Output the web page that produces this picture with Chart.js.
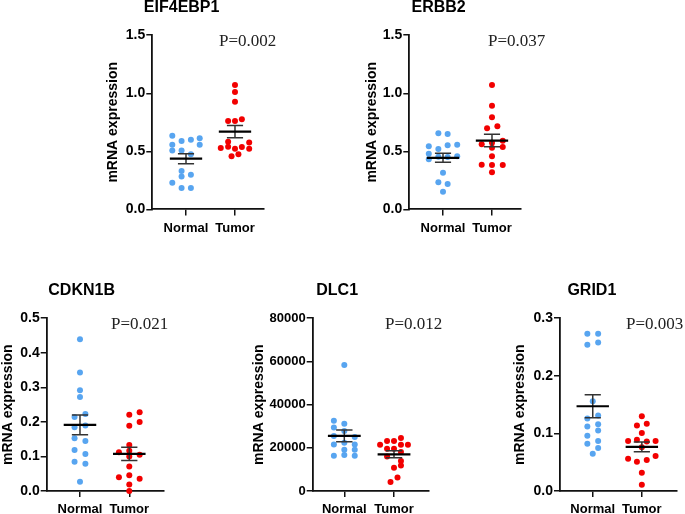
<!DOCTYPE html>
<html>
<head>
<meta charset="utf-8">
<script src="https://cdn.jsdelivr.net/npm/chart.js@4.4.1/dist/chart.umd.min.js"></script>
<style>
    body { margin: 0; width: 685px; height: 514px; position: relative; overflow: hidden; background: #fff; }
    .panel { position: absolute; }
    .pval { position: absolute; font-family: "Liberation Serif", "Times New Roman", serif; font-size: 17px; line-height: 1; color: #222; white-space: nowrap; }
</style>
</head>
<body>
<div class="panel" id="p1"><canvas id="c1"></canvas></div>
<div class="panel" id="p2"><canvas id="c2"></canvas></div>
<div class="panel" id="p3"><canvas id="c3"></canvas></div>
<div class="panel" id="p4"><canvas id="c4"></canvas></div>
<div class="panel" id="p5"><canvas id="c5"></canvas></div>
<div class="pval" style="left:219px; top:32px;">P=0.002</div>
<div class="pval" style="left:488px; top:32px;">P=0.037</div>
<div class="pval" style="left:111px; top:315px;">P=0.021</div>
<div class="pval" style="left:385px; top:315px;">P=0.012</div>
<div class="pval" style="left:626px; top:315px;">P=0.003</div>
<script>
const GROUPS = ["Normal", "Tumor"];
const Y_TITLE = "mRNA expression";

// values; jitter = horizontal spread of the dots (in category units)
const eif4ebp1Normal = [0.634, 0.589, 0.600, 0.612, 0.557, 0.557, 0.508, 0.508, 0.474, 0.330, 0.284, 0.298, 0.230, 0.184, 0.184];
const eif4ebp1NormalJitter = [-0.28, -0.09, 0.10, 0.28, -0.28, 0.28, -0.28, -0.09, 0.10, -0.09, -0.09, 0.10, -0.28, -0.09, 0.10];
const eif4ebp1Tumor = [1.072, 1.011, 0.928, 0.761, 0.761, 0.776, 0.583, 0.577, 0.528, 0.540, 0.523, 0.537, 0.523, 0.457, 0.474];
const eif4ebp1TumorJitter = [0, 0, 0, -0.14, 0, 0.14, -0.14, 0.29, -0.29, -0.14, 0, 0.14, 0.29, -0.07, 0.07];

const erbb2Normal = [0.655, 0.649, 0.543, 0.520, 0.552, 0.557, 0.479, 0.431, 0.454, 0.451, 0.457, 0.316, 0.233, 0.218, 0.152];
const erbb2NormalJitter = [-0.095, 0.095, -0.29, -0.095, 0.095, 0.29, -0.29, -0.29, -0.095, 0.095, 0.29, 0, -0.095, 0.095, 0];
const erbb2Tumor = [1.072, 0.893, 0.793, 0.698, 0.716, 0.560, 0.574, 0.591, 0.531, 0.537, 0.457, 0.385, 0.383, 0.382, 0.319];
const erbb2TumorJitter = [0, 0, 0, -0.1, 0.11, -0.21, 0, 0.22, 0, 0.22, 0, -0.21, 0, 0.22, 0];

const cdkn1bNormal = [0.439, 0.343, 0.292, 0.272, 0.214, 0.223, 0.185, 0.190, 0.153, 0.145, 0.119, 0.107, 0.085, 0.079, 0.027];
const cdkn1bNormalJitter = [0, 0, 0, 0, -0.11, 0.11, -0.11, 0.11, -0.11, 0.11, -0.11, 0.11, -0.11, 0.11, 0];
const cdkn1bTumor = [0.221, 0.228, 0.200, 0.189, 0.133, 0.112, 0.117, 0.100, 0.105, 0.071, 0.040, 0.046, 0.036, 0.019, 0.000];
const cdkn1bTumorJitter = [0, 0.21, 0.21, 0, 0, -0.21, 0, 0, 0.21, 0, -0.21, 0, 0.21, 0, 0];

const dlc1Normal = [58370, 32570, 31180, 29470, 27790, 25480, 25010, 22370, 21590, 21590, 19130, 19130, 16350, 16680, 16350];
const dlc1NormalJitter = [0, -0.21, 0, -0.21, 0, -0.21, 0.21, 0, -0.21, 0.21, 0, 0.21, -0.21, 0, 0.21];
const dlc1Tumor = [24550, 23160, 23160, 21450, 21450, 21450, 19600, 19600, 18070, 16030, 13900, 11860, 10800, 6300, 4170];
const dlc1TumorJitter = [0.14, -0.14, 0, -0.28, 0.14, 0.28, -0.14, 0, 0.14, -0.14, 0.14, 0.14, 0, 0.07, -0.07];

const grid1Normal = [0.273, 0.273, 0.254, 0.258, 0.156, 0.126, 0.131, 0.112, 0.116, 0.105, 0.096, 0.087, 0.082, 0.075, 0.065];
const grid1NormalJitter = [-0.11, 0.11, -0.11, 0.11, 0, -0.11, 0.11, -0.11, 0.11, 0.11, -0.11, 0.11, -0.11, 0.11, 0];
const grid1Tumor = [0.130, 0.114, 0.117, 0.101, 0.087, 0.089, 0.086, 0.087, 0.076, 0.056, 0.061, 0.051, 0.054, 0.032, 0.011];
const grid1TumorJitter = [0, -0.1, 0.1, 0, -0.28, -0.1, 0.1, 0.28, 0, -0.28, 0.28, -0.1, 0.1, 0, 0];

const FONT = "'Liberation Sans', Arial, sans-serif";
const BLUE = "#58a5f0";
const RED = "#f20000";

function meanSem(values) {
    const n = values.length;
    const mean = values.reduce((a, b) => a + b, 0) / n;
    const sd = Math.sqrt(values.reduce((a, v) => a + (v - mean) ** 2, 0) / (n - 1));
    return { mean, sem: sd / Math.sqrt(n) };
}

function summaryDatasets(values, center) {
    const { mean, sem } = meanSem(values);
    const hi = mean + sem;
    const lo = mean - sem;
    const cap = 0.165;
    const half = 0.33;
    return [
        {
            data: [{ x: center - half, y: mean }, { x: center + half, y: mean }],
            showLine: true, borderColor: "#000", borderWidth: 2.2, pointRadius: 0, clip: false
        },
        {
            data: [
                { x: center - cap, y: hi }, { x: center + cap, y: hi }, { x: center, y: null },
                { x: center, y: hi }, { x: center, y: lo }, { x: center, y: null },
                { x: center - cap, y: lo }, { x: center + cap, y: lo }
            ],
            showLine: true, spanGaps: false, borderColor: "#333", borderWidth: 1.5, pointRadius: 0, clip: false
        }
    ];
}

function pointDataset(values, jitter, center, color) {
    return {
        data: values.map((v, i) => ({ x: center + jitter[i], y: v })),
        backgroundColor: color,
        borderColor: color,
        borderWidth: 0,
        pointRadius: 3,
        clip: false
    };
}

function getScales(p) {
    const axisLine = { color: "#111", width: 1.8 };
    const tickGrid = { drawOnChartArea: false, tickLength: 6, color: "#111", lineWidth: 1.5 };

    return {
        x: {
            type: "linear",
            min: p.xMin,
            max: p.xMax,
            afterBuildTicks: scale => { scale.ticks = [{ value: 1 }, { value: 2 }]; },
            afterFit: scale => { scale.height = 32; },
            ticks: {
                callback: v => GROUPS[v - 1],
                color: "#000",
                padding: 5,
                maxRotation: 0,
                autoSkip: false,
                font: { family: FONT, size: 13, weight: "bold" }
            },
            grid: tickGrid,
            border: axisLine
        },
        y: {
            min: 0,
            max: p.yMax,
            afterFit: scale => { scale.width = p.yAxisWidth; },
            ticks: {
                stepSize: p.yStep,
                callback: p.yFormat,
                color: "#000",
                padding: 1,
                font: { family: FONT, size: p.yTickSize, weight: "bold" }
            },
            grid: tickGrid,
            border: axisLine,
            title: {
                display: true,
                text: Y_TITLE,
                color: "#000",
                padding: { top: p.yTitlePad, bottom: 0 },
                font: { family: FONT, size: 14, weight: "bold", lineHeight: 1.2 }
            }
        }
    };
}

function makePanel(p) {
    const box = document.getElementById(p.box);
    box.style.left = p.left + "px";
    box.style.top = p.top + "px";
    box.style.width = p.width + "px";
    box.style.height = p.height + "px";

    return new Chart(document.getElementById(p.canvas), {
        type: "scatter",
        data: {
            datasets: [
                ...summaryDatasets(p.normal, 1),
                ...summaryDatasets(p.tumor, 2),
                pointDataset(p.normal, p.normalJitter, 1, BLUE),
                pointDataset(p.tumor, p.tumorJitter, 2, RED)
            ]
        },
        options: {
            responsive: true,
            maintainAspectRatio: false,
            animation: false,
            events: [],
            layout: { padding: { left: 0, right: p.padRight, top: 0, bottom: 0 } },
            plugins: {
                legend: { display: false },
                tooltip: { enabled: false },
                title: {
                    display: true,
                    text: p.title,
                    color: "#000",
                    padding: { top: 2, bottom: 18 },
                    font: { family: FONT, size: 16, weight: "bold", lineHeight: 1.2 }
                }
            },
            scales: getScales(p)
        }
    });
}

const oneDecimal = v => v.toFixed(1);
const plain = v => String(v);

makePanel({
    box: "p1", canvas: "c1", title: "EIF4EBP1",
    normal: eif4ebp1Normal, normalJitter: eif4ebp1NormalJitter,
    tumor: eif4ebp1Tumor, tumorJitter: eif4ebp1TumorJitter,
    left: 100, top: -4.1, width: 221, height: 245.4, padRight: 57.7,
    yAxisWidth: 52.3, yTitlePad: 4.9, xMin: 0.312, xMax: 2.578,
    yMax: 1.5, yStep: 0.5, yFormat: oneDecimal, yTickSize: 14
});

makePanel({
    box: "p2", canvas: "c2", title: "ERBB2",
    normal: erbb2Normal, normalJitter: erbb2NormalJitter,
    tumor: erbb2Tumor, tumorJitter: erbb2TumorJitter,
    left: 357, top: -4.1, width: 221.4, height: 245.4, padRight: 58.1,
    yAxisWidth: 52.3, yTitlePad: 6.9, xMin: 0.312, xMax: 2.578,
    yMax: 1.5, yStep: 0.5, yFormat: oneDecimal, yTickSize: 14
});

makePanel({
    box: "p3", canvas: "c3", title: "CDKN1B",
    normal: cdkn1bNormal, normalJitter: cdkn1bNormalJitter,
    tumor: cdkn1bTumor, tumorJitter: cdkn1bTumorJitter,
    left: 0, top: 279.2, width: 209, height: 244.1, padRight: 45.7,
    yAxisWidth: 46.7, yTitlePad: 0, xMin: 0.325, xMax: 2.69,
    yMax: 0.5, yStep: 0.1, yFormat: oneDecimal, yTickSize: 14
});

makePanel({
    box: "p4", canvas: "c4", title: "DLC1",
    normal: dlc1Normal, normalJitter: dlc1NormalJitter,
    tumor: dlc1Tumor, tumorJitter: dlc1TumorJitter,
    left: 246, top: 279.2, width: 248, height: 244.1, padRight: 65.7,
    yAxisWidth: 66.7, yTitlePad: 4.9, xMin: 0.364, xMax: 2.69,
    yMax: 80000, yStep: 20000, yFormat: plain, yTickSize: 13
});

makePanel({
    box: "p5", canvas: "c5", title: "GRID1",
    normal: grid1Normal, normalJitter: grid1NormalJitter,
    tumor: grid1Tumor, tumorJitter: grid1TumorJitter,
    left: 507, top: 279.2, width: 220, height: 244.1, padRight: 50.3,
    yAxisWidth: 53, yTitlePad: 4.6, xMin: 0.333, xMax: 2.71,
    yMax: 0.3, yStep: 0.1, yFormat: oneDecimal, yTickSize: 14
});
</script>
</body>
</html>
